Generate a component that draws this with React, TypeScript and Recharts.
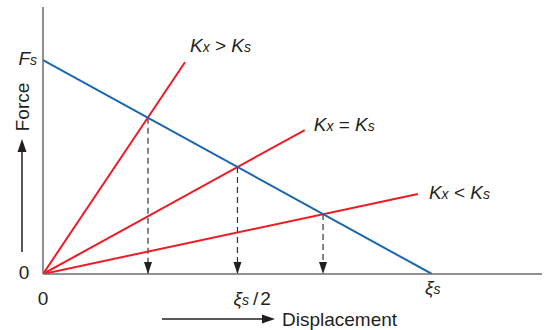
import React from "react";
import { ComposedChart, Line, XAxis, YAxis, ReferenceLine, Scatter } from "recharts";

// Domain extents (in units of Fs and ξs)
const X_MAX = 1.283;
const Y_MAX = 1.248;

// Spring characteristic: force falls from Fs at 0 to 0 at ξs
const springX = [0, 1];
const springY = [1, 0];

// Stiffness lines (start at origin)
const highX = [0, 0.365];
const highY = [0, 0.99];
const equalX = [0, 0.673];
const equalY = [0, 0.673];
const lowX = [0, 0.964];
const lowY = [0, 0.374];

// Intersection points (drop lines)
const dropX = [0.27, 0.5, 0.72];
const dropY = [0.73, 0.5, 0.28];

// Axis ticks
const xTicks = [0, 0.5, 1];
const yTicks = [0, 1];

const toPts = (xs: number[], ys: number[]) => xs.map((x, i) => ({ x, y: ys[i] }));

const springData = toPts(springX, springY);
const highData = toPts(highX, highY);
const equalData = toPts(equalX, equalY);
const lowData = toPts(lowX, lowY);
const arrowData = dropX.map((x) => ({ x, y: 0 }));

const FONT = "'Liberation Sans', Arial, Helvetica, sans-serif";
const TXT = "#231f20";
const RED = "#ed1c24";
const BLUE = "#1b66b1";
const AXIS = "#6d6e71";
const FS = 19;
const SUB = 14;

const KLabel = (rel: string, dx: number, dy: number) => (props: any) => {
  const { x, y, index } = props;
  if (index !== 1) return null;
  return (
    <text x={x + dx} y={y + dy} fill={TXT} fontFamily={FONT} fontSize={FS} fontStyle="italic">
      <tspan>K</tspan>
      <tspan fontSize={SUB}>x</tspan>
      <tspan fontStyle="normal">{` ${rel} `}</tspan>
      <tspan>K</tspan>
      <tspan fontSize={SUB}>s</tspan>
    </text>
  );
};

const XTick = (props: any) => {
  const { x, y, payload } = props;
  const v = payload.value;
  const base = y + 23;
  if (v === 0)
    return (
      <text x={x} y={base} textAnchor="middle" fill={TXT} fontFamily={FONT} fontSize={FS}>
        0
      </text>
    );
  if (v === 0.5)
    return (
      <text x={x - 4} y={base} fill={TXT} fontFamily={FONT} fontSize={FS}>
        <tspan fontStyle="italic">ξ</tspan>
        <tspan fontStyle="italic" fontSize={SUB}>s</tspan>
        <tspan dx={4}>/</tspan>
        <tspan dx={2}>2</tspan>
      </text>
    );
  return (
    <text x={x - 7} y={base - 11} fill={TXT} fontFamily={FONT} fontSize={FS} fontStyle="italic">
      <tspan>ξ</tspan>
      <tspan fontSize={SUB}>s</tspan>
    </text>
  );
};

const YTick = (props: any) => {
  const { x, y, payload } = props;
  const v = payload.value;
  if (v === 0)
    return (
      <text x={x - 11} y={y + 5} textAnchor="middle" fill={TXT} fontFamily={FONT} fontSize={FS}>
        0
      </text>
    );
  return (
    <text x={x + 2} y={y + 5} textAnchor="end" fill={TXT} fontFamily={FONT} fontSize={FS} fontStyle="italic">
      <tspan>F</tspan>
      <tspan fontSize={SUB}>s</tspan>
    </text>
  );
};

const XAxisLabel = (props: any) => {
  const { viewBox } = props;
  const x0 = viewBox.x;
  const y0 = viewBox.y;
  const ay = y0 + 45;
  const lx1 = x0 + 119;
  const tip = x0 + 232;
  return (
    <g>
      <line x1={lx1} y1={ay} x2={tip - 10} y2={ay} stroke={TXT} strokeWidth={1.5} />
      <polygon points={`${tip},${ay} ${tip - 13},${ay - 4.5} ${tip - 13},${ay + 4.5}`} fill={TXT} />
      <text x={tip + 7} y={ay + 7} fill={TXT} fontFamily={FONT} fontSize={FS}>
        Displacement
      </text>
    </g>
  );
};

const YAxisLabel = (props: any) => {
  const { viewBox } = props;
  const cx = viewBox.x + 22;
  const top = viewBox.y;
  const tipY = top + 132;
  const endY = top + 245;
  const textY = top + 100;
  return (
    <g>
      <line x1={cx} y1={endY} x2={cx} y2={tipY + 10} stroke={TXT} strokeWidth={1.5} />
      <polygon points={`${cx},${tipY} ${cx - 4.5},${tipY + 13} ${cx + 4.5},${tipY + 13}`} fill={TXT} />
      <text
        x={cx}
        y={textY}
        transform={`rotate(-90, ${cx}, ${textY})`}
        textAnchor="middle"
        dominantBaseline="central"
        fill={TXT}
        fontFamily={FONT}
        fontSize={FS}
      >
        Force
      </text>
    </g>
  );
};

const ArrowHead = (props: any) => {
  const { cx, cy } = props;
  return <polygon points={`${cx},${cy} ${cx - 4},${cy - 12} ${cx + 4},${cy - 12}`} fill="#231f20" />;
};

export default function App() {
  return (
    <div style={{ position: "absolute", left: 0, top: 0, width: 549, height: 330, background: "#fff" }}>
      <ComposedChart width={549} height={330} margin={{ top: 7, right: 7, left: 0, bottom: 0 }}>
        <XAxis
          type="number"
          dataKey="x"
          domain={[0, X_MAX]}
          allowDataOverflow
          ticks={xTicks}
          tickLine={false}
          axisLine={{ stroke: AXIS, strokeWidth: 1.5 }}
          height={56}
          tick={<XTick />}
          label={XAxisLabel}
        />
        <YAxis
          type="number"
          dataKey="y"
          domain={[0, Y_MAX]}
          allowDataOverflow
          ticks={yTicks}
          tickLine={false}
          axisLine={{ stroke: AXIS, strokeWidth: 1.5 }}
          width={43}
          tick={<YTick />}
          label={YAxisLabel}
        />
        {dropX.map((x, i) => (
          <ReferenceLine
            key={i}
            segment={[
              { x, y: dropY[i] },
              { x, y: 0 },
            ]}
            stroke="#333"
            strokeWidth={1.2}
            strokeDasharray="6 4"
          />
        ))}
        <Line data={highData} dataKey="y" stroke={RED} strokeWidth={2} dot={false} isAnimationActive={false} label={KLabel(">", 5, -10)} />
        <Line data={equalData} dataKey="y" stroke={RED} strokeWidth={2} dot={false} isAnimationActive={false} label={KLabel("=", 9, 1)} />
        <Line data={lowData} dataKey="y" stroke={RED} strokeWidth={2} dot={false} isAnimationActive={false} label={KLabel("<", 11, 5)} />
        <Line data={springData} dataKey="y" stroke={BLUE} strokeWidth={2} dot={false} isAnimationActive={false} />
        <Scatter data={arrowData} dataKey="y" shape={<ArrowHead />} isAnimationActive={false} />
      </ComposedChart>
    </div>
  );
}
